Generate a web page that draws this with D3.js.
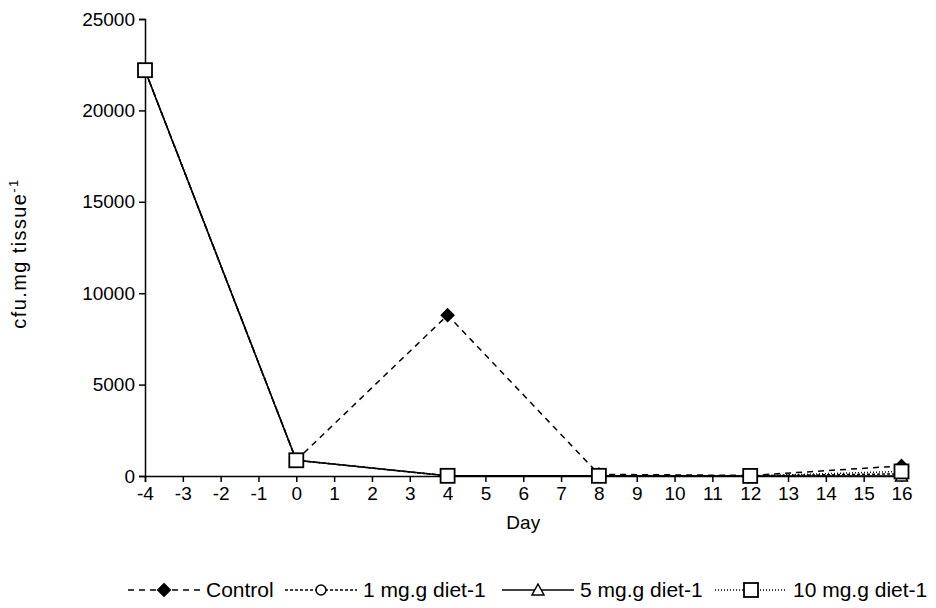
<!DOCTYPE html>
<html>
<head>
<meta charset="utf-8">
<script src="https://cdn.jsdelivr.net/npm/d3@7"></script>
<style>
  html, body { margin: 0; padding: 0; background: #fff; }
  svg { display: block; font-family: "Liberation Sans", Arial, sans-serif; }
</style>
</head>
<body>
<svg id="chart" width="936" height="608"></svg>
<script>
// Sampling days and colony counts (cfu per mg tissue) for each diet group
const days = [-4, 0, 4, 8, 12, 16];
const control = [22200, 860, 8800, 90, 30, 550];
const dose1 = [22200, 860, 10, 20, 10, 120];
const dose5 = [22200, 860, 10, 10, 5, 0];
const dose10 = [22200, 860, 10, 10, 5, 250];
const xTicks = d3.range(-4, 17);
const yTicks = [0, 5000, 10000, 15000, 20000, 25000];
const seriesNames = ["Control", "1 mg.g diet-1", "5 mg.g diet-1", "10 mg.g diet-1"];

const series = [
  { name: seriesNames[0], values: control, dash: "6,5", marker: "diamond", fill: "#000" },
  { name: seriesNames[1], values: dose1, dash: "3,2", marker: "circle", fill: "#fff" },
  { name: seriesNames[2], values: dose5, dash: null, marker: "triangle", fill: "#fff" },
  { name: seriesNames[3], values: dose10, dash: "1,2", marker: "square", fill: "#fff" }
];

const svg = d3.select("#chart");
const margin = { left: 145, right: 34, top: 19, bottom: 132 };
const W = 936, H = 608;
const FONT = "'Liberation Sans', Arial, sans-serif";

const x = d3.scaleLinear().domain([-4, 16]).range([margin.left, W - margin.right - 0.5]);
const y = d3.scaleLinear().domain([0, 25000]).range([H - margin.bottom, margin.top]);

// Axes
const xAxis = svg.append("g")
  .attr("transform", `translate(0,${y(0)})`)
  .call(d3.axisBottom(x).tickValues(xTicks).tickFormat(d => String(d)).tickSize(6).tickPadding(5));
const yAxis = svg.append("g")
  .attr("transform", `translate(${x(-4)},0)`)
  .call(d3.axisLeft(y).tickValues(yTicks).tickFormat(d => String(d)).tickSize(6).tickPadding(4));

[xAxis, yAxis].forEach(g => {
  g.select(".domain").attr("stroke", "#000").attr("stroke-width", 1.5);
  g.selectAll(".tick line").attr("stroke", "#000").attr("stroke-width", 1.5);
  g.selectAll(".tick text").attr("fill", "#000").style("font-size", "19px")
    .style("font-family", FONT);
});

// Axis titles
svg.append("text")
  .attr("x", (x(-4) + x(16)) / 2)
  .attr("y", 529)
  .attr("text-anchor", "middle")
  .style("font-size", "19px")
  .text("Day");

const yTitle = svg.append("text")
  .attr("transform", `translate(26,${(y(0) + y(25000)) / 2 + 6}) rotate(-90)`)
  .attr("text-anchor", "middle")
  .style("font-size", "20px")
  .style("letter-spacing", "1.4px");
yTitle.append("tspan").text("cfu.mg tissue");
yTitle.append("tspan").attr("dy", -8).style("font-size", "13px").text("-1");

// Marker shapes
function marker(g, type, fill, cx, cy) {
  if (type === "diamond") {
    g.append("path").attr("d", `M${cx},${cy - 6.5}L${cx + 6.5},${cy}L${cx},${cy + 6.5}L${cx - 6.5},${cy}Z`)
      .attr("fill", fill).attr("stroke", "#000").attr("stroke-width", 1.2);
  } else if (type === "circle") {
    g.append("circle").attr("cx", cx).attr("cy", cy).attr("r", 5)
      .attr("fill", fill).attr("stroke", "#000").attr("stroke-width", 1.5);
  } else if (type === "triangle") {
    g.append("path").attr("d", `M${cx},${cy - 6}L${cx + 6},${cy + 5}L${cx - 6},${cy + 5}Z`)
      .attr("fill", fill).attr("stroke", "#000").attr("stroke-width", 1.5);
  } else {
    g.append("rect").attr("x", cx - 7).attr("y", cy - 7).attr("width", 14).attr("height", 14)
      .attr("fill", fill).attr("stroke", "#000").attr("stroke-width", 1.8);
  }
}

// Lines and markers, drawn in series order so the last group sits on top
const line = d3.line().x((d, i) => x(days[i])).y(d => y(d));
series.forEach(s => {
  const g = svg.append("g");
  g.append("path").datum(s.values).attr("d", line)
    .attr("fill", "none").attr("stroke", "#000").attr("stroke-width", 1.5)
    .attr("stroke-dasharray", s.dash);
  s.values.forEach((v, i) => marker(g, s.marker, s.fill, x(days[i]), y(v)));
});

// Legend
const legendY = 590;
const legendX = [128, 285, 502, 715];
series.forEach((s, i) => {
  const g = svg.append("g");
  const x0 = legendX[i];
  g.append("line").attr("x1", x0).attr("x2", x0 + 72).attr("y1", legendY).attr("y2", legendY)
    .attr("stroke", "#000").attr("stroke-width", 1.5).attr("stroke-dasharray", s.dash);
  marker(g, s.marker, s.fill, x0 + 36, legendY);
  g.append("text").attr("x", x0 + 78).attr("y", legendY + 7)
    .style("font-size", "21px").style("font-family", FONT).text(s.name);
});
</script>
</body>
</html>
